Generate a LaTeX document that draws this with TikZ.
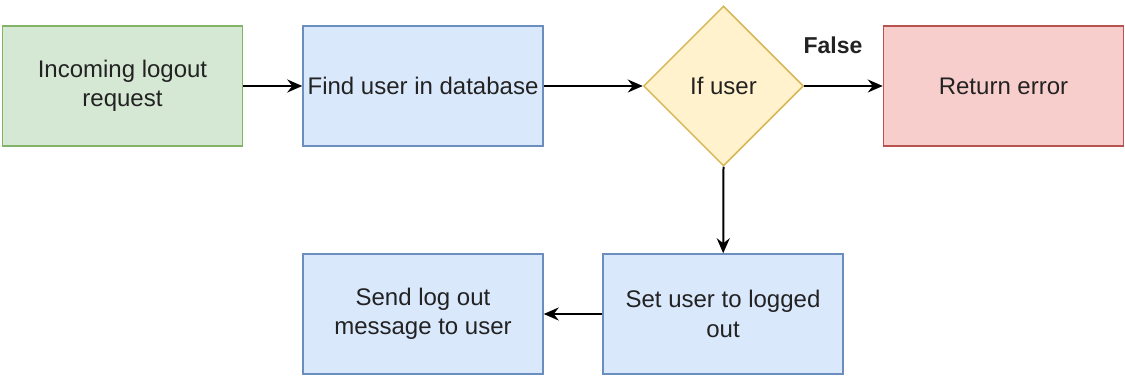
\documentclass[tikz,border=0pt]{standalone}
\usepackage{fontspec}
\setmainfont{Liberation Sans}
\usetikzlibrary{shapes.geometric,arrows.meta}
\definecolor{gfill}{HTML}{D5E8D4}\definecolor{gline}{HTML}{82B366}
\definecolor{bfill}{HTML}{DAE8FC}\definecolor{bline}{HTML}{6C8EBF}
\definecolor{yfill}{HTML}{FFF2CC}\definecolor{yline}{HTML}{D6B656}
\definecolor{rfill}{HTML}{F8CECC}\definecolor{rline}{HTML}{B85450}
\definecolor{txt}{HTML}{222222}
\begin{document}
\begin{tikzpicture}[x=1pt,y=-1pt,
  every node/.style={font=\fontsize{24}{29.5}\selectfont, text=txt},
  box/.style={rectangle, line width=1.5pt, minimum width=240pt, minimum height=120pt, inner sep=0pt, align=center},
  greenbox/.style={box, fill=gfill, draw=gline},
  bluebox/.style={box, fill=bfill, draw=bline},
  redbox/.style={box, fill=rfill, draw=rline},
  decision/.style={diamond, aspect=1, line width=1.5pt, fill=yfill, draw=yline, minimum width=160pt, minimum height=160pt, inner sep=0pt},
  arr/.style={line width=2pt, -{Stealth[length=15pt,width=13pt,inset=5pt]}}]
\useasboundingbox (0,0) rectangle (1125,377);
\node[greenbox] (start) at (122.5,86) {Incoming logout\\request};
\node[bluebox] (find) at (423,86) {Find user in database};
\node[decision] (ifuser) at (723.5,86) {If user};
\node[redbox] (err) at (1003.5,86) {Return error};
\node[bluebox] (set) at (723,314) {Set user to logged\\out};
\node[bluebox] (send) at (423,314) {Send log out\\message to user};
\node[font=\fontsize{23}{29}\selectfont\bfseries] (false) at (833,45) {False};
\draw[arr] (start) -- (find);
\draw[arr] (find) -- (ifuser.west);
\draw[arr] (ifuser.east) -- (err);
\draw[arr] (ifuser.south) -- (set);
\draw[arr] (set) -- (send);
\end{tikzpicture}
\end{document}
